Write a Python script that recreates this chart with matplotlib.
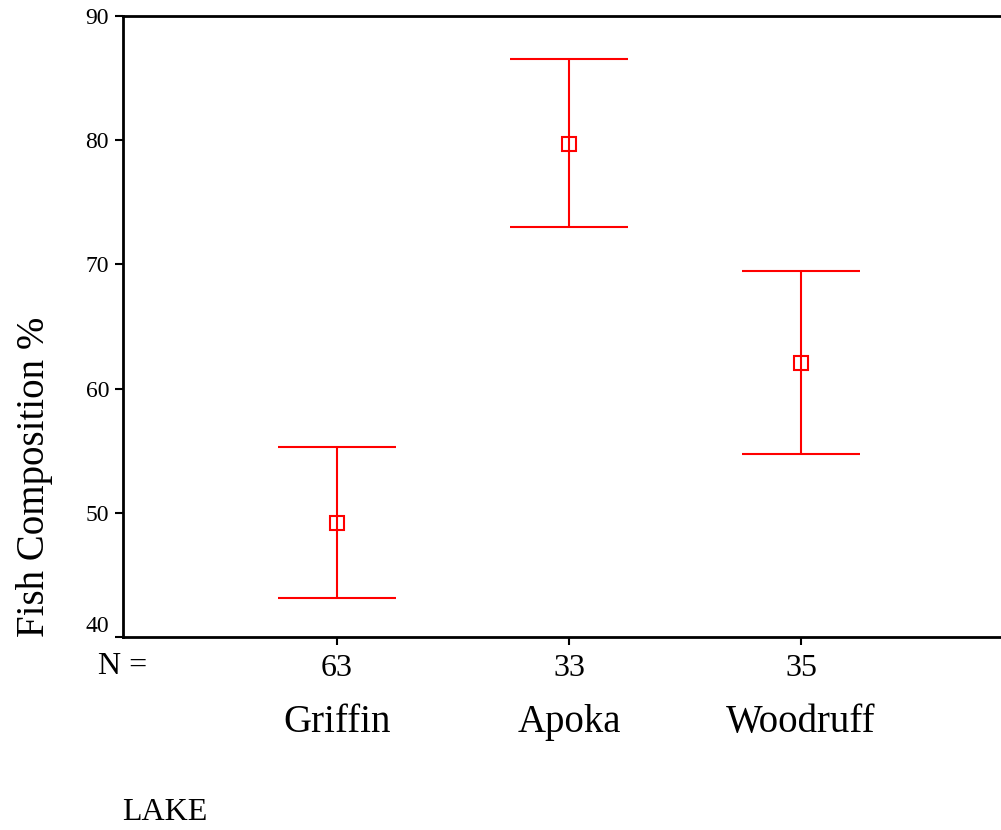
import numpy as np
import matplotlib
matplotlib.use("Agg")
import matplotlib.pyplot as plt
import matplotlib.transforms as mtransforms

plt.rcParams["font.family"] = ["Liberation Serif", "DejaVu Serif"]

lakes = ["Griffin", "Apoka", "Woodruff"]
n_vals = [63, 33, 35]
means = [49.2, 79.7, 62.1]
upper = [55.3, 86.5, 69.5]
lower = [43.1, 73.0, 54.7]

x = np.arange(1, len(lakes) + 1)
yerr = np.array([np.array(means) - np.array(lower), np.array(upper) - np.array(means)])

fig = plt.figure(figsize=(10.01, 8.30), dpi=100)
ax = fig.add_axes([123/1001, 1 - 637/830, 1 - 123/1001, (637 - 16)/830])

ax.errorbar(x, means, yerr=yerr, fmt="s", color="red", mfc="none", mec="red",
            ms=10.5, mew=1.5, elinewidth=1.5, capsize=42.5, capthick=1.5)

ax.set_ylim(40, 90)
ax.set_xlim(1 - 214/232, 1 + (1001 - 337)/232)
ax.set_yticks([40, 50, 60, 70, 80, 90])
ax.set_xticks(x)
ax.set_xticklabels([str(n) for n in n_vals])
ax.tick_params(axis="y", labelsize=17, length=6, width=1.5, direction="out", pad=4)
ax.tick_params(axis="x", labelsize=23, length=6, width=1.5, direction="out", pad=6)
for s in ["left", "bottom", "top"]:
    ax.spines[s].set_linewidth(2)
ax.spines["right"].set_visible(False)

# lowest y label sits above the corner
fig.canvas.draw()
ax.get_yticklabels()[0].set_va("bottom")

# category names under the N row
trans = mtransforms.blended_transform_factory(ax.transData, fig.transFigure)
for xi, name in zip(x, lakes):
    ax.text(xi, 1 - 722/830, name, transform=trans, ha="center", va="center", fontsize=28)

fig.text(98/1001, 1 - 666/830, "N =", ha="left", va="center", fontsize=23)
fig.text(122/1001, 1 - 812/830, "LAKE", ha="left", va="center", fontsize=23)
fig.text(35/1001, 1 - 637/830, "Fish Composition %", rotation=90,
         ha="center", va="bottom", fontsize=28)

fig.savefig("out.png", dpi=100)
